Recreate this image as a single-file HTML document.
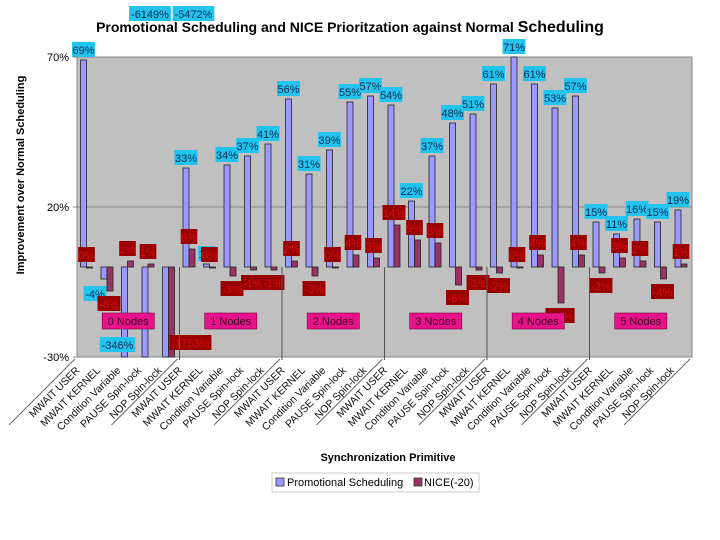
<!DOCTYPE html>
<html><head><meta charset="utf-8"><style>
html,body{margin:0;padding:0;background:#fff;}
svg{display:block;font-family:"Liberation Sans","DejaVu Sans",sans-serif;}
</style></head><body>
<svg id="chart" width="720" height="540" viewBox="0 0 720 540" xmlns="http://www.w3.org/2000/svg">
<rect x="0" y="0" width="720" height="540" fill="#fff"/>
<text x="350" y="32" text-anchor="middle" font-size="14" font-weight="bold" fill="#000">Promotional Scheduling  and NICE Prioritzation against Normal <tspan font-size="16">Scheduling</tspan></text>
<rect x="77" y="57" width="615" height="300" fill="#c0c0c0" stroke="#888" stroke-width="1"/>
<g id="grid"></g>
<g id="bars"></g>
<g id="labels"></g>
<g id="xaxis"></g>
<g id="yaxis"></g>
<text transform="translate(24,175) rotate(-90)" text-anchor="middle" font-size="11" font-weight="bold">Improvement over Normal Scheduling</text>
<text x="388" y="461" text-anchor="middle" font-size="11" font-weight="bold">Synchronization Primitive</text>
<g>
<rect x="272" y="473" width="207" height="19" fill="#fff" stroke="#ccc"/>
<rect x="276" y="478" width="8" height="8" fill="#9999ff" stroke="#333" stroke-width="0.8"/>
<text x="287" y="486" font-size="11">Promotional Scheduling</text>
<rect x="414" y="478" width="8" height="8" fill="#993366" stroke="#333" stroke-width="0.8"/>
<text x="424" y="486" font-size="11">NICE(-20)</text>
</g>
</svg>
<script>
const groups = ["0 Nodes","1 Nodes","2 Nodes","3 Nodes","4 Nodes","5 Nodes"];
const primitives = ["MWAIT USER","MWAIT KERNEL","Condition Variable","PAUSE  Spin-lock","NOP Spin-lock"];
const promoValues = [69,-4,-346,-6149,-5472, 33,1,34,37,41, 56,31,39,55,57, 54,22,37,48,51, 61,71,61,53,57, 15,11,16,15,19];
const niceValues = [0,-8,2,1,-1753, 6,0,-3,-1,-1, 2,-3,0,4,3, 14,9,8,-6,-1, -2,0,4,-12,4, -2,3,2,-4,1];
const yTicks = [70,20,-30];

const NS="http://www.w3.org/2000/svg";
const X0=77,X1=692,YT=57,YB=357,VMAX=70,VMIN=-30;
const n=promoValues.length;
const cw=(X1-X0)/n;
function y(v){return YT+(VMAX-v)/(VMAX-VMIN)*(YB-YT);}
function xc(i){return X0+i*cw;}
function clampV(v){return Math.max(VMIN,Math.min(VMAX,v));}
function mk(tag,attrs,parent){const e=document.createElementNS(NS,tag);for(const k in attrs)e.setAttribute(k,attrs[k]);parent.appendChild(e);return e;}

const grid=document.getElementById('grid'),bars=document.getElementById('bars'),labels=document.getElementById('labels'),xaxis=document.getElementById('xaxis'),yaxis=document.getElementById('yaxis');

yTicks.forEach(t=>{
  if(t!==VMAX&&t!==VMIN){const l=mk('line',{x1:X0,x2:X1,y1:y(t),y2:y(t),stroke:'#888','stroke-width':1},grid);
  
  }
  mk('line',{x1:X0-4,x2:X0,y1:y(t),y2:y(t),stroke:'#888'},yaxis);
  const tx=mk('text',{x:X0-8,y:y(t)+4,'text-anchor':'end','font-size':11},yaxis);
  tx.textContent=t+'%';
  
  
});

function label(text,cx,cy,cls){
  const w=text.length*6.3+4;
  const r=mk('rect',{x:cx-w/2,y:cy-8,width:w,height:15,fill:cls==='p'?'#22c4ee':'#990000'},labels);
  
  
  const t=mk('text',{x:cx,y:cy+4,'text-anchor':'middle','font-size':11,fill:cls==='p'?'#0a2a55':'#d01010'},labels);
  t.textContent=text;
  
  
}

let topClip=0;
for(let i=0;i<n;i++){
  const px=xc(i)+3.5, nx=xc(i)+9.5, bw=6;
  const pv=clampV(promoValues[i]), nv=clampV(niceValues[i]);
  const pb=mk('rect',{x:px,y:Math.min(y(0),y(pv)),width:bw,height:Math.max(1,Math.abs(y(pv)-y(0))),fill:'#9999ff',stroke:'#222','stroke-width':0.8},bars);
  
  
  const nb=mk('rect',{x:nx,y:Math.min(y(0),y(nv)),width:bw,height:Math.max(1,Math.abs(y(nv)-y(0))),fill:'#993366',stroke:'#222','stroke-width':0.8},bars);
  
  
  const p=promoValues[i];
  if(p<VMIN){
    if(topClip===0&&i%5===2){label(p+'%',px-4,345,'p');}
    else{label(p+'%',px+(topClip===0?8:31),14,'p');topClip++;}
  } else if(p>=0){label(p+'%',px+3,Math.max(y(pv)-10,46),'p');}
  else{label(p+'%',px-6,y(pv)+15,'p');}
  const q=niceValues[i];
  if(q<VMIN){label(q+'%',nx+22,343,'n');}
  else if(q>=0){label(q+'%',nx,y(nv)-12,'n');}
  else{label(q+'%',nx+2,y(nv)+13,'n');}
}

for(let g=0;g<=groups.length;g++){
  const gx=X0+g*5*cw;
  if(g>0&&g<groups.length){const l=mk('line',{x1:gx,x2:gx,y1:y(0),y2:YB+3,stroke:'#555'},xaxis);
    
    }
  const s=mk('line',{x1:gx-2,y1:YB+2,x2:gx-68,y2:YB+68,stroke:'#666'},xaxis);
  
  
}
groups.forEach((gname,g)=>{
  const cx=X0+(g+0.5)*5*cw;
  const w=gname.length*6.6+6;
  const r=mk('rect',{x:cx-w/2,y:313,width:w,height:16,fill:'#e8128a',stroke:'#800040','stroke-width':0.6},xaxis);
  
  
  const t=mk('text',{x:cx,y:325,'text-anchor':'middle','font-size':11,fill:'#3a0020'},xaxis);
  t.textContent=gname;
  
  
});
for(let i=0;i<n;i++){
  const cx=xc(i)+cw/2;
  const t=mk('text',{transform:'translate('+(cx-7)+','+(YB+14)+') rotate(-45)','text-anchor':'end','font-size':10.5,fill:'#111'},xaxis);
  t.textContent=primitives[i%5];
  
  
}
</script>
</body></html>
